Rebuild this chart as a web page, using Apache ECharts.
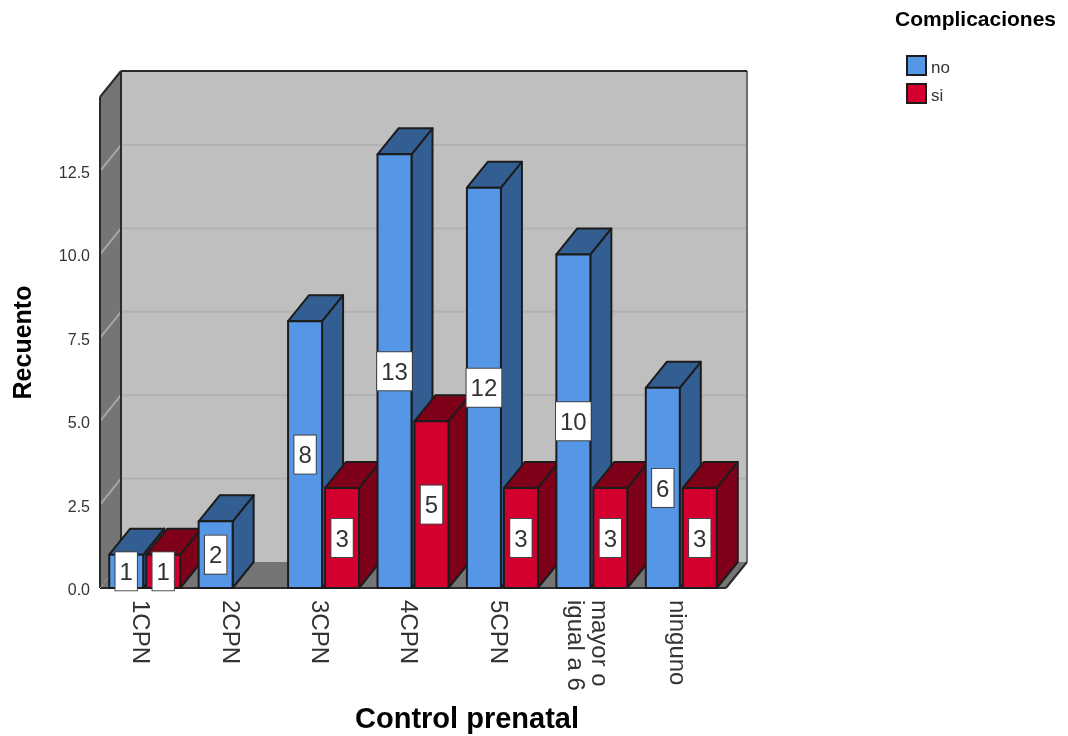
<!DOCTYPE html>
<html>
<head>
<meta charset="utf-8">
<title>Control prenatal</title>
<style>
html, body { margin: 0; padding: 0; background: #fff; }
#chart { width: 1068px; height: 736px; }
</style>
<script src="https://cdn.jsdelivr.net/npm/echarts@6/dist/echarts.min.js"></script>
</head>
<body>
<div id="chart"></div>
<script>
const categories = ['1CPN', '2CPN', '3CPN', '4CPN', '5CPN', 'mayor o\nigual a 6', 'ninguno'];
const noValues = [1, 2, 8, 13, 12, 10, 6];
const siValues = [1, null, 3, 5, 3, 3, 3];
const yTicks = [0, 2.5, 5, 7.5, 10, 12.5];

const FONT = '"Liberation Sans", Arial, sans-serif';
const DX = 21;      // profundidad 3D
const DY = -26;
const BAR_W = 34;
const LINE = '#1c1c1c';

function poly(points, fill, z2) {
    return {
        type: 'polygon',
        z2: z2,
        shape: { points: points },
        style: { fill: fill, stroke: LINE, lineWidth: 2, lineJoin: 'round' }
    };
}

function segment(x1, y1, x2, y2, color, width) {
    return {
        type: 'line',
        shape: { x1: x1, y1: y1, x2: x2, y2: y2 },
        style: { stroke: color, lineWidth: width }
    };
}

// paredes y suelo
function renderWalls(params, api) {
    const g = params.coordSys;
    const l = g.x, r = g.x + g.width, t = g.y, b = g.y + g.height;
    const children = [
        { type: 'polygon', shape: { points: [[l + DX, t + DY], [r + DX, t + DY], [r + DX, b + DY], [l + DX, b + DY]] }, style: { fill: '#bfbfbf' } },
        { type: 'polygon', shape: { points: [[l, t], [l + DX, t + DY], [l + DX, b + DY], [l, b]] }, style: { fill: '#757575' } },
        { type: 'polygon', shape: { points: [[l, b], [l + DX, b + DY], [r + DX, b + DY], [r, b]] }, style: { fill: '#757575' } }
    ];
    yTicks.slice(1).forEach(function (v) {
        const y = api.coord([0, v])[1];
        children.push(segment(l + DX, y + DY, r + DX, y + DY, '#b1b1b1', 2));
        children.push(segment(l, y, l + DX, y + DY, '#a6a6a6', 2));
    });
    children.push(segment(r + DX, t + DY, r + DX, b + DY, '#6e6e6e', 2));
    children.push(segment(l + DX, t + DY, r + DX, t + DY, '#2a2a2a', 2));
    children.push(segment(l + DX, t + DY, l + DX, b + DY, '#2a2a2a', 2));
    children.push(segment(l, t, l + DX, t + DY, '#2a2a2a', 2));
    children.push(segment(l, t, l, b, '#2a2a2a', 2));
    children.push(segment(l, b, r, b, '#2a2a2a', 2));
    children.push(segment(l, b, l + DX, b + DY, '#8c8c8c', 1));
    children.push(segment(r, b, r + DX, b + DY, '#2a2a2a', 2));
    return { type: 'group', children: children };
}

function barRenderer(front, dark, offset, order) {
    return function (params, api) {
        const idx = api.value(0);
        const val = api.value(1);
        if (isNaN(val)) return null;
        const top = api.coord([idx, val]);
        const base = api.coord([idx, 0]);
        const x0 = top[0] + offset;
        const x1 = x0 + BAR_W;
        const y0 = top[1];
        const y1 = base[1];
        const z = idx * 3 + order;
        return {
            type: 'group',
            children: [
                poly([[x1, y0], [x1 + DX, y0 + DY], [x1 + DX, y1 + DY], [x1, y1]], dark, z),
                poly([[x0, y0], [x0 + DX, y0 + DY], [x1 + DX, y0 + DY], [x1, y0]], dark, z),
                poly([[x0, y0], [x1, y0], [x1, y1], [x0, y1]], front, z),
                {
                    type: 'text',
                    z2: 100,
                    style: {
                        text: String(val),
                        x: (x0 + x1) / 2,
                        y: (y0 + y1) / 2 - 19,
                        align: 'center',
                        verticalAlign: 'top',
                        fontFamily: FONT,
                        fontSize: 24,
                        lineHeight: 24,
                        fill: '#333',
                        backgroundColor: '#fff',
                        borderColor: '#444',
                        borderWidth: 1,
                        padding: [9, 4, 5, 4]
                    }
                }
            ]
        };
    };
}

const chart = echarts.init(document.getElementById('chart'), null, { renderer: 'canvas' });
chart.setOption({
    animation: false,
    backgroundColor: '#fff',
    title: [
        { text: 'Complicaciones', left: 895, top: 10, padding: 0, textStyle: { fontFamily: FONT, fontSize: 21, fontWeight: 'bold', color: '#000' } },
        { text: 'Control prenatal', left: 467, top: 705, padding: 0, textAlign: 'center', textStyle: { fontFamily: FONT, fontSize: 29, fontWeight: 'bold', color: '#000' } }
    ],
    legend: {
        data: ['no', 'si'],
        orient: 'vertical',
        left: 906,
        top: 55,
        padding: 0,
        itemWidth: 19,
        itemHeight: 19,
        itemGap: 6,
        icon: 'rect',
        selectedMode: false,
        itemStyle: { borderColor: LINE, borderWidth: 2 },
        formatter: '{t|{name}}',
        textStyle: {
            padding: [6, 0, 0, 0],
            rich: { t: { fontFamily: FONT, fontSize: 17, color: '#333' } }
        }
    },
    grid: { left: 100, top: 97, width: 626, height: 491 },
    xAxis: {
        type: 'category',
        data: categories,
        axisLine: { show: false },
        axisTick: { show: false },
        axisLabel: {
            rotate: -90,
            interval: 0,
            margin: 12,
            padding: [10, 0, 0, 0],
            hideOverlap: false,
            formatter: function (v) {
                return v.split('\n').map(function (s) { return '{t|' + s + '}'; }).join('\n');
            },
            rich: { t: { fontFamily: FONT, fontSize: 24, lineHeight: 24, color: '#333' } }
        }
    },
    yAxis: {
        type: 'value',
        min: 0,
        max: 14.72,
        interval: 2.5,
        name: 'Recuento',
        nameLocation: 'middle',
        nameGap: 63,
        nameTextStyle: { fontFamily: FONT, fontSize: 25, fontWeight: 'bold', color: '#000' },
        axisLine: { show: false },
        axisTick: { show: false },
        splitLine: { show: false },
        axisLabel: {
            margin: 10,
            padding: [5, 0, 0, 0],
            showMaxLabel: false,
            formatter: function (v) { return v % 2.5 === 0 ? '{t|' + v.toFixed(1) + '}' : ''; },
            rich: { t: { fontFamily: FONT, fontSize: 16, color: '#333' } }
        }
    },
    series: [
        {
            type: 'custom',
            name: 'paredes',
            z: 1,
            silent: true,
            data: [[0, 0]],
            renderItem: renderWalls,
            encode: { x: 0, y: 1 }
        },
        {
            type: 'custom',
            name: 'no',
            z: 2,
            itemStyle: { color: '#5596e6' },
            data: noValues.map(function (v, i) { return [i, v]; }),
            renderItem: barRenderer('#5596e6', '#335e91', -35.5, 0),
            encode: { x: 0, y: 1 }
        },
        {
            type: 'custom',
            name: 'si',
            z: 2,
            itemStyle: { color: '#d3002f' },
            data: siValues.map(function (v, i) { return [i, v]; }),
            renderItem: barRenderer('#d3002f', '#7f0019', 1.5, 1),
            encode: { x: 0, y: 1 }
        }
    ]
});
</script>
</body>
</html>
